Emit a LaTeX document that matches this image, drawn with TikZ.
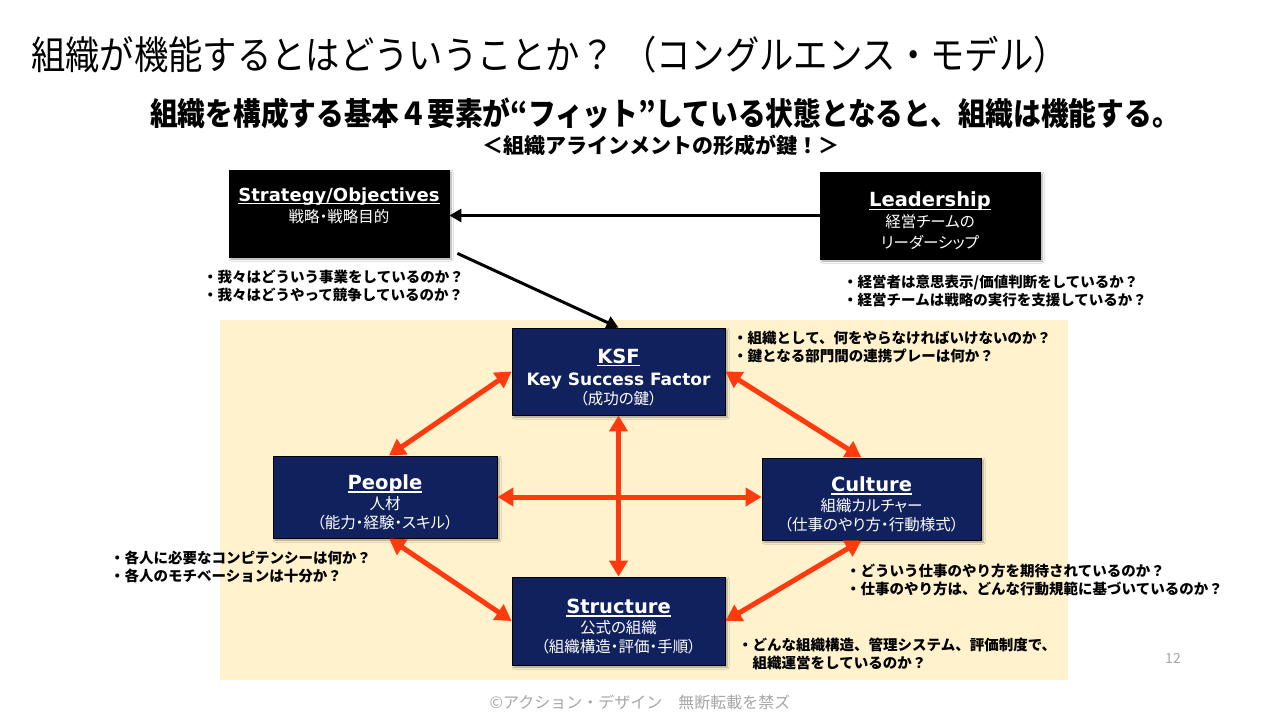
\documentclass[tikz,border=0pt]{standalone}
\usepackage{fontspec}
\setmainfont{Noto Sans CJK JP}
\newfontfamily\latinbold{DejaVu Sans}
\newfontfamily\titlefont[FakeStretch=0.88]{Noto Sans CJK JP}
\newfontfamily\boxjp[RawFeature=+palt]{Noto Sans CJK JP}
\usepackage{xcolor}
\usetikzlibrary{arrows.meta, shadows.blur}

\definecolor{boxnavy}{HTML}{10215E}
\definecolor{arrowred}{HTML}{FF3A0F}
\definecolor{bgyellow}{HTML}{FFF2CC}
\definecolor{footgray}{HTML}{A6A6A6}

\newcommand{\hdline}[1]{\setbox0\hbox{#1}\rlap{\raisebox{-3pt}{\rule{\wd0}{1.3pt}}}\box0}
\newcommand{\boxhead}[2][19.5]{{\latinbold\bfseries\fontsize{#1}{#1}\selectfont\rule{0pt}{26pt}\hdline{#2}}}

\begin{document}
\begin{tikzpicture}[x=1pt, y=-1pt,
    navybox/.style={fill=boxnavy, draw=black, line width=0.8pt, text=white,
        align=center, inner sep=0pt, font=\boxjp\fontsize{15.5}{20}\selectfont,
        blur shadow={shadow xshift=2pt, shadow yshift=-2pt, shadow blur radius=2pt}},
    blackbox/.style={navybox, fill=black},
    note/.style={anchor=north west, align=left, inner sep=0pt,
        font=\bfseries\fontsize{14.5}{17.5}\selectfont},
    redarrow/.style={{Triangle[length=16pt,width=18pt]}-{Triangle[length=16pt,width=18pt]},
        line width=5pt, draw=arrowred},
    blackarrow/.style={-{Triangle[length=12pt,width=13pt]}, line width=3pt}]
    \useasboundingbox[fill=white] (0,0) rectangle (1280,720);

    % headings
    \node[anchor=west, inner sep=0pt, font=\titlefont\fontsize{39}{41}\selectfont]
        (title) at (31,55) {組織が機能するとはどういうことか？ （コングルエンス・モデル）};
    \node[inner sep=0pt, font=\titlefont\bfseries\fontsize{31.5}{34}\selectfont]
        (subtitle) at (665,113) {組織を構成する基本４要素が“フィット”している状態となると、組織は機能する。};
    \node[inner sep=0pt, font=\bfseries\fontsize{21}{24}\selectfont]
        (key) at (661,145) {＜組織アラインメントの形成が鍵！＞};

    % background
    \fill[bgyellow] (220,320) rectangle (1068,680);

    % boxes
    \node[blackbox, minimum width=220pt, minimum height=87pt] (strat) at (339,213.5)
        {\boxhead[18]{Strategy/Objectives}\\[1pt]戦略・戦略目的\\[10pt]~};
    \node[blackbox, minimum width=220pt, minimum height=87pt] (lead) at (930,215.5)
        {\boxhead{Leadership}\\[1pt]経営チームの\\[1pt]リーダーシップ};
    \node[navybox, minimum width=213pt, minimum height=87pt] (ksf) at (618.5,371.5)
        {\boxhead{KSF}\\[2pt]{\latinbold\bfseries\fontsize{17}{17}\selectfont Key Success Factor}\\[-1pt]（成功の鍵）};
    \node[navybox, minimum width=224pt, minimum height=82pt] (people) at (385,497)
        {\boxhead{People}\\[0pt]人材\\[-1pt]（能力・経験・スキル）};
    \node[navybox, minimum width=219pt, minimum height=82pt] (culture) at (871.5,499)
        {\boxhead{Culture}\\[0pt]組織カルチャー\\[-1pt]（仕事のやり方・行動様式）};
    \node[navybox, minimum width=213pt, minimum height=88pt] (struct) at (618.5,621)
        {\boxhead{Structure}\\[0pt]公式の組織\\[-1pt]（組織構造・評価・手順）};

    % connectors
    \draw[blackarrow] (lead.west) -- (lead.west -| strat.east);
    \draw[blackarrow] ([xshift=8pt,yshift=4pt]strat.south east) -- (ksf.north);
    \draw[redarrow] (ksf.west) -- ([xshift=4pt]people.north);
    \draw[redarrow] (ksf.east) -- ([xshift=-10pt]culture.north);
    \draw[redarrow] ([xshift=4pt]people.south) -- (struct.west);
    \draw[redarrow] ([xshift=-10pt]culture.south) -- (struct.east);
    \draw[redarrow] (ksf.south) -- (struct.north);
    \draw[redarrow] (people.east) -- (people.east -| culture.west);

    % questions
    \node[note] (stratq) at (203,270)
        {・我々はどういう事業をしているのか？\\・我々はどうやって競争しているのか？};
    \node[note] (leadq) at (843,275)
        {・経営者は意思表示/価値判断をしているか？\\・経営チームは戦略の実行を支援しているか？};
    \node[note] (ksfq) at (733,331)
        {・組織として、何をやらなければいけないのか？\\・鍵となる部門間の連携プレーは何か？};
    \node[note] (peopleq) at (110,551)
        {・各人に必要なコンピテンシーは何か？\\・各人のモチベーションは十分か？};
    \node[note] (cultureq) at (846,564)
        {・どういう仕事のやり方を期待されているのか？\\・仕事のやり方は、どんな行動規範に基づいているのか？};
    \node[note] (structq) at (738,638)
        {・どんな組織構造、管理システム、評価制度で、\\\phantom{・}組織運営をしているのか？};

    % footer
    \node[text=footgray, font=\fontsize{14}{16}\selectfont] (page) at (1173,658) {12};
    \node[text=footgray, font=\fontsize{16}{18}\selectfont] (copy) at (640,702)
        {©アクション・デザイン　無断転載を禁ズ};
\end{tikzpicture}
\end{document}
